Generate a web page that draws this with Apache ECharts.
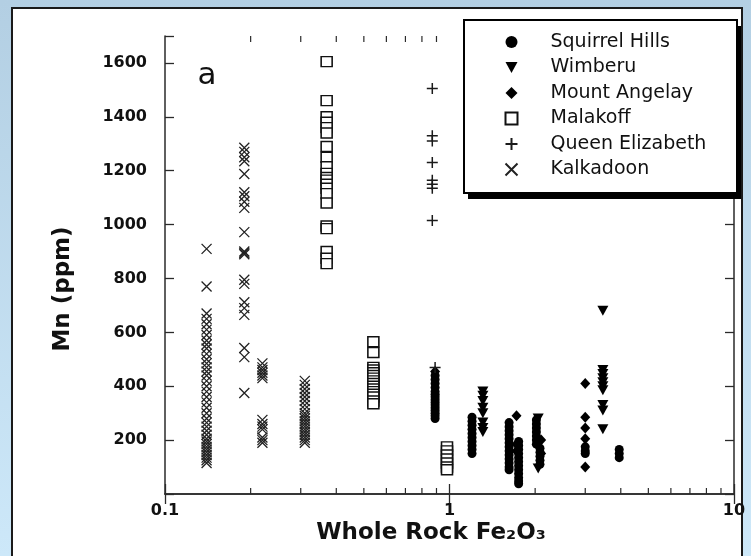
<!DOCTYPE html>
<html>
<head>
<meta charset="utf-8">
<script src="https://cdn.jsdelivr.net/npm/echarts/dist/echarts.min.js"></script>
<style>
  html, body { margin: 0; padding: 0; }
  #chart { width: 751px; height: 556px; }
</style>
</head>
<body>
<div id="chart"></div>
<script>
// Mn (ppm) versus whole rock Fe2O3 (wt%), by granite suite. Each entry is [Fe2O3, Mn].
const squirrelHills = [
  [0.89, 440], [0.89, 425], [0.89, 410], [0.89, 395], [0.89, 380], [0.89, 370], [0.89, 360],
  [0.89, 350], [0.89, 340], [0.89, 330], [0.89, 320], [0.89, 310], [0.89, 300], [0.89, 290], [0.89, 280],
  [1.2, 285], [1.2, 270], [1.2, 255], [1.2, 240], [1.2, 225], [1.2, 210], [1.2, 195], [1.2, 180], [1.2, 165], [1.2, 150],
  [1.62, 265], [1.62, 250], [1.62, 235], [1.62, 220], [1.62, 205], [1.62, 190], [1.62, 175], [1.62, 160],
  [1.62, 145], [1.62, 130], [1.62, 115], [1.62, 100], [1.62, 90],
  [1.75, 195], [1.75, 180], [1.75, 165], [1.75, 150], [1.75, 135], [1.75, 120], [1.75, 105], [1.75, 90],
  [1.75, 75], [1.75, 60], [1.75, 48], [1.75, 38],
  [2.02, 275], [2.02, 260], [2.02, 245], [2.02, 230], [2.02, 215], [2.02, 200], [2.02, 185],
  [2.08, 170], [2.08, 155], [2.08, 140], [2.08, 125], [2.08, 110],
  [3.0, 175], [3.0, 160], [3.0, 150],
  [3.95, 165], [3.95, 150], [3.95, 135]
];
const wimberu = [
  [1.31, 380], [1.31, 365], [1.31, 345], [1.31, 320], [1.31, 300], [1.31, 265], [1.31, 245], [1.31, 230],
  [2.05, 280], [2.05, 95],
  [3.46, 680], [3.46, 460], [3.46, 445], [3.46, 430], [3.46, 415], [3.46, 400], [3.46, 385],
  [3.46, 330], [3.46, 310], [3.46, 240]
];
const mountAngelay = [
  [0.89, 455],
  [1.72, 290], [1.72, 185], [1.72, 160],
  [2.1, 200], [2.1, 150],
  [3.0, 410], [3.0, 285], [3.0, 245], [3.0, 205], [3.0, 100]
];
const malakoff = [
  [0.37, 1605], [0.37, 1460], [0.37, 1400], [0.37, 1380], [0.37, 1360], [0.37, 1340], [0.37, 1290],
  [0.37, 1250], [0.37, 1215], [0.37, 1190], [0.37, 1175], [0.37, 1165], [0.37, 1150], [0.37, 1135],
  [0.37, 1115], [0.37, 1080], [0.37, 995], [0.37, 985], [0.37, 900], [0.37, 875], [0.37, 855],
  [0.54, 565], [0.54, 525], [0.54, 470], [0.54, 460], [0.54, 450], [0.54, 440], [0.54, 430], [0.54, 420],
  [0.54, 410], [0.54, 400], [0.54, 390], [0.54, 380], [0.54, 370], [0.54, 360], [0.54, 345], [0.54, 335],
  [0.98, 175], [0.98, 160], [0.98, 145], [0.98, 130], [0.98, 115], [0.98, 100], [0.98, 90]
];
const queenElizabeth = [
  [0.87, 1505], [0.87, 1330], [0.87, 1310], [0.87, 1230], [0.87, 1165], [0.87, 1150], [0.87, 1135], [0.87, 1015],
  [0.89, 470]
];
const kalkadoon = [
  [0.14, 910], [0.14, 770], [0.14, 670], [0.14, 650], [0.14, 630], [0.14, 610], [0.14, 590], [0.14, 570],
  [0.14, 555], [0.14, 540], [0.14, 520], [0.14, 500], [0.14, 485], [0.14, 470], [0.14, 455], [0.14, 440],
  [0.14, 420], [0.14, 400], [0.14, 380], [0.14, 360], [0.14, 340], [0.14, 320], [0.14, 300], [0.14, 280],
  [0.14, 265], [0.14, 250], [0.14, 235], [0.14, 220], [0.14, 205], [0.14, 195], [0.14, 185], [0.14, 175],
  [0.14, 165], [0.14, 155], [0.14, 145], [0.14, 135], [0.14, 125], [0.14, 115],
  [0.19, 1285], [0.19, 1270], [0.19, 1250], [0.19, 1235], [0.19, 1188], [0.19, 1120], [0.19, 1105],
  [0.19, 1085], [0.19, 1062], [0.19, 972], [0.19, 900], [0.19, 895], [0.19, 890], [0.19, 795], [0.19, 780],
  [0.19, 712], [0.19, 690], [0.19, 665], [0.19, 542], [0.19, 508], [0.19, 375],
  [0.22, 485], [0.22, 470], [0.22, 460], [0.22, 450], [0.22, 440], [0.22, 430],
  [0.22, 275], [0.22, 260], [0.22, 250], [0.22, 240], [0.22, 210], [0.22, 200], [0.22, 190],
  [0.31, 420], [0.31, 405], [0.31, 390], [0.31, 375], [0.31, 360], [0.31, 345], [0.31, 330], [0.31, 315],
  [0.31, 300], [0.31, 290], [0.31, 280], [0.31, 270], [0.31, 260], [0.31, 250], [0.31, 240], [0.31, 230],
  [0.31, 220], [0.31, 210], [0.31, 200], [0.31, 190]
];

const suiteNames = ['Squirrel Hills', 'Wimberu', 'Mount Angelay', 'Malakoff', 'Queen Elizabeth', 'Kalkadoon'];
const yTickLabels = [200, 400, 600, 800, 1000, 1200, 1400, 1600];
const logMinorTicks = [0.2, 0.3, 0.4, 0.5, 0.6, 0.7, 0.8, 0.9, 2, 3, 4, 5, 6, 7, 8, 9];

const Y_MIN = 0, Y_MAX = 1700;
const INK = '#111';
const FONT = 'DejaVu Sans';

const SYM_DOWN = 'path://M0,0L10,0L5,9Z';
const SYM_PLUS = 'path://M0,5H10M5,0V10';
const SYM_CROSS = 'path://M0,0L10,10M10,0L0,10';

const chart = echarts.init(document.getElementById('chart'), null, { renderer: 'canvas' });

function scatter(name, data, symbol, size, itemStyle) {
  return {
    name, type: 'scatter', data, symbol, symbolSize: size,
    xAxisIndex: 0, yAxisIndex: 0, itemStyle: Object.assign({ opacity: 1 }, itemStyle),
    silent: true, z: 2
  };
}

const option = {
  animation: false,
  graphic: [
    { type: 'rect', z: -20, silent: true, shape: { x: 0, y: 0, width: 751, height: 556 },
      style: { fill: new echarts.graphic.LinearGradient(0, 0, 0, 1, [
        { offset: 0, color: '#b3cfe3' }, { offset: 1, color: '#cde8f9' }]) } },
    { type: 'rect', z: -19, silent: true, shape: { x: 12, y: 8, width: 730, height: 570 },
      style: { fill: '#ffffff', stroke: '#1a1a1a', lineWidth: 2 } },
    // legend frame with a solid drop shadow
    { type: 'rect', z: 2.5, silent: true, shape: { x: 468, y: 26, width: 273, height: 173 },
      style: { fill: '#000' } },
    { type: 'rect', z: 3, silent: true, shape: { x: 464, y: 20, width: 273, height: 173 },
      style: { fill: '#fff', stroke: '#000', lineWidth: 2 } },
    { type: 'text', z: 3, silent: true, x: 207, y: 76,
      style: { text: 'a', fontFamily: FONT, fontSize: 31, fill: INK, align: 'center', verticalAlign: 'middle' } },
    { type: 'text', z: 3, silent: true, x: 63, y: 289, rotation: Math.PI / 2,
      style: { text: 'Mn (ppm)', fontFamily: FONT, fontWeight: 'bold', fontSize: 23, fill: INK,
               align: 'center', verticalAlign: 'middle' } },
    { type: 'text', z: 3, silent: true, x: 431, y: 533,
      style: { text: 'Whole Rock Fe₂O₃', fontFamily: FONT, fontWeight: 'bold', fontSize: 23, fill: INK,
               align: 'center', verticalAlign: 'middle' } }
  ],
  legend: {
    z: 4, orient: 'vertical', left: 503, top: 32, padding: 0,
    itemWidth: 12, itemHeight: 12, itemGap: 5.5,
    data: suiteNames,
    textStyle: { fontFamily: FONT, fontSize: 19, color: INK, lineHeight: 20, padding: [0, 0, 0, 28] },
    selectedMode: false
  },
  grid: { left: 165, top: 36, width: 569, height: 458 },
  xAxis: [
    {
      type: 'log', logBase: 10, min: 0.1, max: 10, position: 'bottom',
      axisLine: { lineStyle: { color: '#2a2a2a', width: 1.5 } },
      axisTick: { inside: true, length: 10, lineStyle: { color: '#2a2a2a', width: 1.3 } },
      axisLabel: { margin: 9, color: INK, fontFamily: FONT, fontWeight: 'bold', fontSize: 16,
                   formatter: v => String(v) },
      splitLine: { show: false }, minorTick: { show: false }
    },
    {
      type: 'log', logBase: 10, min: 0.1, max: 10, position: 'top',
      axisLine: { lineStyle: { color: '#2a2a2a', width: 1.5 } },
      axisTick: { inside: true, length: 10, lineStyle: { color: '#2a2a2a', width: 1.3 } },
      axisLabel: { show: false }, splitLine: { show: false }
    }
  ],
  yAxis: [
    {
      type: 'value', min: Y_MIN, max: Y_MAX, interval: 200, position: 'left',
      axisLine: { show: true, lineStyle: { color: '#2a2a2a', width: 1.5 } },
      axisTick: { show: true, inside: true, length: 9, lineStyle: { color: '#2a2a2a', width: 1.3 } },
      axisLabel: { margin: 18, color: INK, fontFamily: FONT, fontWeight: 'bold', fontSize: 16,
                   formatter: v => (yTickLabels.indexOf(v) >= 0 ? String(v) : '') },
      splitLine: { show: false }
    },
    {
      type: 'value', min: Y_MIN, max: Y_MAX, interval: 200, position: 'right',
      axisLine: { show: true, lineStyle: { color: '#2a2a2a', width: 1.5 } },
      axisTick: { show: true, inside: true, length: 9, lineStyle: { color: '#2a2a2a', width: 1.3 } },
      axisLabel: { show: false }, splitLine: { show: false }
    }
  ],
  series: [
    scatter('Squirrel Hills', squirrelHills, 'circle', 9, { color: '#000' }),
    scatter('Wimberu', wimberu, SYM_DOWN, [11, 10], { color: '#000' }),
    scatter('Mount Angelay', mountAngelay, 'diamond', [10, 11], { color: '#000' }),
    scatter('Malakoff', malakoff, 'rect', [11, 10],
            { color: '#fff', borderColor: '#111', borderWidth: 1.5 }),
    scatter('Queen Elizabeth', queenElizabeth, SYM_PLUS, 11,
            { color: 'none', borderColor: '#1a1a1a', borderWidth: 1.5 }),
    scatter('Kalkadoon', kalkadoon, SYM_CROSS, 10,
            { color: 'none', borderColor: '#222', borderWidth: 1.3 }),
    {
      // minor decade ticks on the log axis, drawn inward at bottom and top
      type: 'custom', silent: true, z: 1, xAxisIndex: 0, yAxisIndex: 0,
      data: logMinorTicks.map(v => [v, Y_MIN]),
      renderItem: function (params, api) {
        const v = api.value(0);
        const b = api.coord([v, Y_MIN]);
        const t = api.coord([v, Y_MAX]);
        const st = { stroke: '#2a2a2a', lineWidth: 1.2 };
        return {
          type: 'group',
          children: [
            { type: 'line', shape: { x1: b[0], y1: b[1], x2: b[0], y2: b[1] - 6 }, style: st },
            { type: 'line', shape: { x1: t[0], y1: t[1], x2: t[0], y2: t[1] + 6 }, style: st }
          ]
        };
      }
    }
  ]
};

chart.setOption(option);
</script>
</body>
</html>
